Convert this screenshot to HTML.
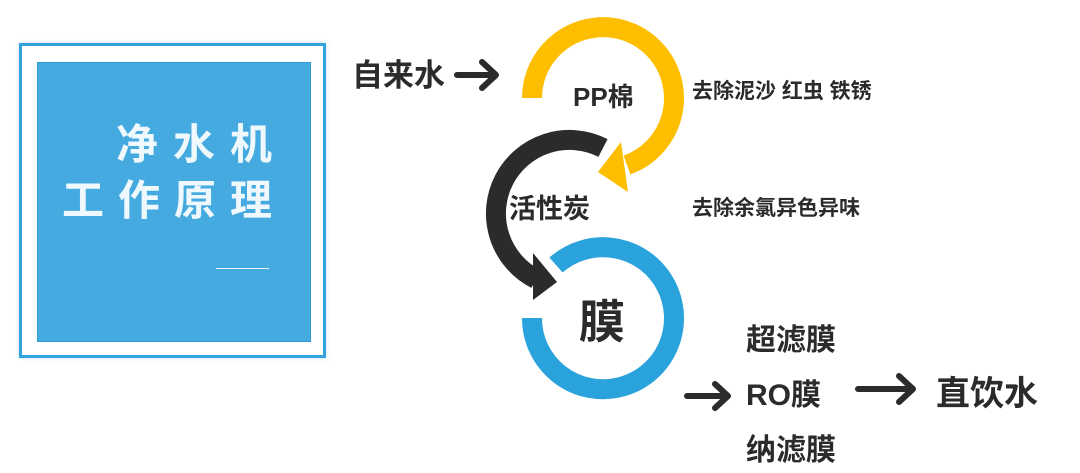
<!DOCTYPE html>
<html><head><meta charset="utf-8"><style>
html,body{margin:0;padding:0;background:#fff;}
body{width:1080px;height:473px;position:relative;overflow:hidden;font-family:"Liberation Sans","Noto Sans CJK SC",sans-serif;}
.t{position:absolute;color:#2b2b2b;font-weight:bold;white-space:nowrap;line-height:1;}
</style></head><body>
<div style="position:absolute;left:19px;top:43px;width:301px;height:309px;border:3px solid #34a2dc;box-shadow:0 0 4px rgba(52,162,220,.3)"></div>
<div style="position:absolute;left:37px;top:62px;width:272px;height:278px;background:#45aae0;border:1px solid #2f9bd6"></div>
<div class="t" style="left:116px;top:124px;font-size:42px;color:#eef8fd;letter-spacing:15px">净水机</div>
<div class="t" style="left:62px;top:180px;font-size:42px;color:#eef8fd;letter-spacing:14px">工作原理</div>
<div style="position:absolute;left:216px;top:268px;width:53px;height:1px;background:#eef8fd"></div>

<svg width="1080" height="473" style="position:absolute;left:0;top:0">
 <path d="M532 98 A71 71 0 1 1 627 165" fill="none" stroke="#fdbe00" stroke-width="20"/>
 <polygon points="621,142 628,192 598,172" fill="#fdbe00"/>
 <path d="M603 148 A71 71 0 1 0 536 279" fill="none" stroke="#2b2b2b" stroke-width="20"/>
 <polygon points="533,253 533,300 557,282" fill="#2b2b2b"/>
 <path d="M532 318 A71 71 0 1 0 556 265" fill="none" stroke="#2aa2dc" stroke-width="20"/>
 <g stroke="#2b2b2b" stroke-width="6" fill="none" stroke-linecap="round" stroke-linejoin="round">
  <path d="M457 75 H495 M482 62 L496 75 L482 88"/>
  <path d="M687 396 H727 M715 384 L728 396 L715 408"/>
  <path d="M858 389 H912 M899 376 L913 389 L899 402"/>
 </g>
</svg>

<div class="t" style="left:352px;top:60px;font-size:31px">自来水</div>
<div class="t" style="left:573px;top:84px;font-size:26px">PP棉</div>
<div class="t" style="left:692px;top:81px;font-size:21px">去除泥沙 红虫 铁锈</div>
<div class="t" style="left:509px;top:196px;font-size:27px">活性炭</div>
<div class="t" style="left:692px;top:198px;font-size:21px">去除余氯异色异味</div>
<div class="t" style="left:579px;top:299px;font-size:46px">膜</div>
<div class="t" style="left:746px;top:326px;font-size:30px">超滤膜</div>
<div class="t" style="left:746px;top:381px;font-size:30px">RO膜</div>
<div class="t" style="left:746px;top:436px;font-size:30px">纳滤膜</div>
<div class="t" style="left:936px;top:377px;font-size:34px">直饮水</div>
</body></html>
